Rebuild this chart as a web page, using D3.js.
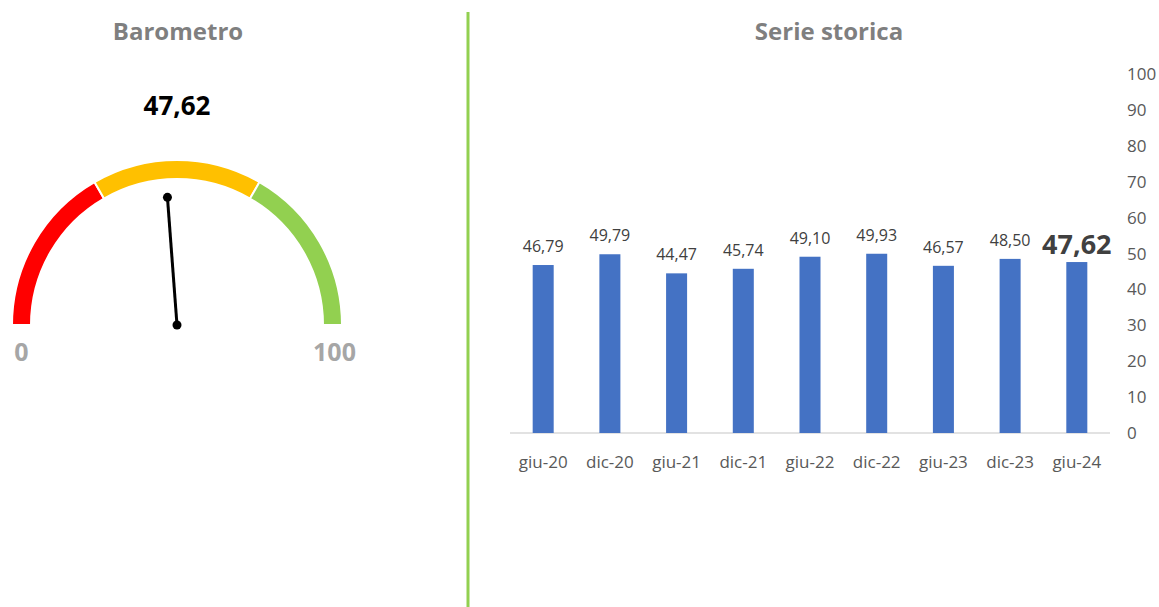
<!DOCTYPE html>
<html><head><meta charset="utf-8">
<script src="https://cdn.jsdelivr.net/npm/d3@7"></script>
<style>body{margin:0;background:#fff;}svg{display:block;font-family:"Open Sans","Noto Sans",sans-serif;}</style>
</head><body>
<svg id="c" width="1159" height="607"></svg>
<script>
const categories = ["giu-20","dic-20","giu-21","dic-21","giu-22","dic-22","giu-23","dic-23","giu-24"];
const values = [46.79,49.79,44.47,45.74,49.10,49.93,46.57,48.50,47.62];
const yTicks = [0,10,20,30,40,50,60,70,80,90,100];
const gaugeValue = 47.62;
const gaugeBands = [{from:0,to:33.33,color:"#ff0000"},{from:33.33,to:66.67,color:"#ffc000"},{from:66.67,to:100,color:"#92d050"}];
const gaugeLabels = ["0","100"];

const fmt = v => v.toFixed(2).replace(".", ",");
const svg = d3.select("#c");

// Titles
svg.append("text").attr("x",178).attr("y",40).attr("text-anchor","middle")
  .attr("font-size",24).attr("font-weight","bold").attr("fill","#7f7f7f").text("Barometro");
svg.append("text").attr("x",829).attr("y",40).attr("text-anchor","middle")
  .attr("font-size",24).attr("font-weight","bold").attr("fill","#7f7f7f").text("Serie storica");

// Divider
svg.append("line").attr("x1",468).attr("x2",468).attr("y1",12).attr("y2",607)
  .attr("stroke","#92d050").attr("stroke-width",3);

// Gauge
const cx = 177, cy = 325, rOut = 165, rIn = 146;
const ang = d3.scaleLinear().domain([0,100]).range([-Math.PI/2, Math.PI/2]);
const arc = d3.arc().innerRadius(rIn).outerRadius(rOut);
const g = svg.append("g").attr("transform",`translate(${cx},${cy})`);
g.selectAll("path.band").data(gaugeBands).join("path").attr("class","band")
  .attr("d",d=>arc({startAngle:ang(d.from),endAngle:ang(d.to)}))
  .attr("fill",d=>d.color).attr("stroke","#fff").attr("stroke-width",2);
const needleLen = 128;
const a = ang(gaugeValue);
const nx = needleLen*Math.sin(a), ny = -needleLen*Math.cos(a);
g.append("line").attr("x1",0).attr("y1",0).attr("x2",nx).attr("y2",ny)
  .attr("stroke","#000").attr("stroke-width",3);
g.append("circle").attr("cx",0).attr("cy",0).attr("r",4.5).attr("fill","#000");
g.append("circle").attr("cx",nx).attr("cy",ny).attr("r",4.5).attr("fill","#000");
svg.append("text").attr("x",177).attr("y",115).attr("text-anchor","middle")
  .attr("font-size",26).attr("font-weight","bold").attr("fill","#000").text(fmt(gaugeValue));
svg.append("text").attr("x",cx-(rOut+rIn)/2).attr("y",361).attr("text-anchor","middle")
  .attr("font-size",25).attr("font-weight","bold").attr("fill","#a6a6a6").text(gaugeLabels[0]);
svg.append("text").attr("x",cx+(rOut+rIn)/2+2).attr("y",361).attr("text-anchor","middle")
  .attr("font-size",25).attr("font-weight","bold").attr("fill","#a6a6a6").text(gaugeLabels[1]);

// Bar chart
const x = d3.scaleBand().domain(categories).range([510,1110]).paddingInner(0.685).paddingOuter(0.34);
const y = d3.scaleLinear().domain([0,100]).range([433,74]);

svg.append("line").attr("x1",510).attr("x2",1110).attr("y1",y(0)).attr("y2",y(0))
  .attr("stroke","#d9d9d9").attr("stroke-width",1.5);

svg.selectAll("rect.bar").data(values).join("rect").attr("class","bar")
  .attr("x",(d,i)=>x(categories[i])).attr("width",x.bandwidth())
  .attr("y",d=>y(d)).attr("height",d=>y(0)-y(d)).attr("fill","#4472c4");

const last = values.length-1;
svg.selectAll("text.lbl").data(values).join("text").attr("class","lbl")
  .attr("x",(d,i)=>x(categories[i])+x.bandwidth()/2)
  .attr("y",(d,i)=>y(d)-(i===last?8:13))
  .attr("text-anchor","middle")
  .attr("font-size",(d,i)=>i===last?27:16)
  .attr("font-weight",(d,i)=>i===last?"bold":"normal")
  .attr("fill","#404040").text(d=>fmt(d));

svg.selectAll("text.xl").data(categories).join("text").attr("class","xl")
  .attr("x",d=>x(d)+x.bandwidth()/2).attr("y",468).attr("text-anchor","middle")
  .attr("font-size",17).attr("fill","#595959").text(d=>d);

svg.selectAll("text.yl").data(yTicks).join("text").attr("class","yl")
  .attr("x",1127).attr("y",d=>y(d)+6).attr("text-anchor","start")
  .attr("font-size",17).attr("fill","#595959").text(d=>d);
</script>
</body></html>
